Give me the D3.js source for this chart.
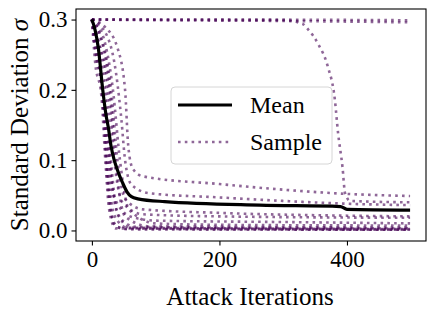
<!DOCTYPE html>
<html>
<head>
<meta charset="utf-8">
<script src="https://cdn.jsdelivr.net/npm/d3@7"></script>
<style>
  body { margin: 0; background: #fff; }
</style>
</head>
<body>
<div id="chart"></div>
<script>
// mean sigma over attack iterations
const meanSeries = [[0,0.3],[5,0.285],[10,0.26],[17,0.2],[22,0.165],[26,0.145],[30,0.12],[35,0.1],[40,0.086],[48,0.068],[55,0.055],[62,0.048],[72,0.045],[114,0.041],[263,0.036],[390,0.034],[400,0.03],[499,0.029]];

// individual samples (iteration, sigma)
const sampleSeries = [
  [[0,0.3],[100,0.299],[300,0.298],[499,0.296]],
  [[0,0.3],[200,0.3],[499,0.299]],
  [[0,0.3],[300,0.299],[330,0.294],[339,0.286],[355,0.265],[370,0.233],[381,0.186],[386,0.139],[393,0.09],[397,0.053],[405,0.042],[499,0.04]],
  [[0,0.3],[20,0.29],[40,0.26],[52,0.2],[57,0.12],[64,0.088],[80,0.077],[200,0.066],[300,0.058],[400,0.052],[499,0.049]],
  [[0,0.3],[15,0.29],[35,0.24],[46,0.16],[52,0.1],[62,0.065],[90,0.053],[200,0.047],[300,0.042],[400,0.038],[499,0.036]],
  [[0,0.3],[12,0.28],[30,0.2],[40,0.1],[52,0.045],[80,0.03],[200,0.025],[400,0.021],[499,0.02]],
  [[0,0.3],[10,0.27],[26,0.2],[35,0.1],[48,0.04],[80,0.023],[200,0.02],[499,0.018]],
  [[0,0.3],[8,0.26],[22,0.15],[34,0.05],[60,0.02],[100,0.014],[300,0.012],[499,0.01]],
  [[0,0.3],[14,0.285],[33,0.2],[44,0.1],[58,0.03],[100,0.01],[200,0.008],[499,0.007]],
  [[0,0.3],[6,0.25],[16,0.2],[22,0.1],[29,0.03],[40,0.005],[60,0.002],[499,0.001]],
  [[0,0.3],[8,0.26],[19,0.18],[26,0.08],[36,0.02],[55,0.004],[499,0.002]],
  [[0,0.3],[10,0.27],[23,0.2],[30,0.1],[42,0.02],[70,0.005],[499,0.003]],
  [[0,0.3],[12,0.28],[28,0.2],[37,0.1],[52,0.02],[90,0.006],[499,0.004]],
  [[0,0.3],[7,0.25],[17,0.19],[24,0.09],[34,0.01],[50,0.002],[499,0.001]],
  [[0,0.3],[5,0.24],[15,0.19],[21,0.1],[27,0.03],[37,0.003],[499,0.001]],
  [[0,0.3],[9,0.265],[21,0.19],[28,0.1],[38,0.03],[60,0.004],[499,0.002]]
];

const xTicks = [0, 200, 400];
const yTicks = [0.0, 0.1, 0.2, 0.3];

const FONT = 'Liberation Serif';
const W = 435, H = 310;
const margin = { top: 9, right: 9, bottom: 69, left: 76 };
const width = W - margin.left - margin.right;
const height = H - margin.top - margin.bottom;

const svg = d3.select('#chart').append('svg')
  .attr('width', W)
  .attr('height', H)
  .attr('font-family', FONT);

const g = svg.append('g')
  .attr('transform', `translate(${margin.left},${margin.top})`);

const x = d3.scaleLinear().domain([-24.95, 523.95]).range([0, width]);
const y = d3.scaleLinear().domain([-0.015, 0.315]).range([height, 0]);

g.append('clipPath').attr('id', 'clip')
  .append('rect').attr('width', width).attr('height', height);

const line = d3.line()
  .x(d => x(d[0]))
  .y(d => y(d[1]))
  .curve(d3.curveMonotoneX);

const plot = g.append('g').attr('clip-path', 'url(#clip)');

// samples, dotted purple
plot.selectAll('path.sample')
  .data(sampleSeries)
  .enter()
  .append('path')
  .attr('class', 'sample')
  .attr('d', line)
  .attr('fill', 'none')
  .attr('stroke', '#440154')
  .attr('stroke-opacity', 0.6)
  .attr('stroke-width', 2.6)
  .attr('stroke-dasharray', '2.6,4.2');

// mean line on top
plot.append('path')
  .datum(meanSeries)
  .attr('d', line)
  .attr('fill', 'none')
  .attr('stroke', '#000')
  .attr('stroke-width', 3.2)
  .attr('stroke-linejoin', 'round');

// axes
const xAxis = g.append('g')
  .attr('transform', `translate(0,${height})`)
  .call(d3.axisBottom(x).tickValues(xTicks).tickSize(4.5).tickPadding(5));
const yAxis = g.append('g')
  .call(d3.axisLeft(y).tickValues(yTicks).tickFormat(d3.format('.1f')).tickSize(4.5).tickPadding(4));

[xAxis, yAxis].forEach(a => {
  a.attr('font-family', FONT).attr('font-size', 23);
  a.select('.domain').remove();
  a.selectAll('line').attr('stroke', '#000').attr('stroke-width', 1.1);
  a.selectAll('text').attr('fill', '#000');
});

// frame
g.append('rect')
  .attr('width', width).attr('height', height)
  .attr('fill', 'none').attr('stroke', '#000').attr('stroke-width', 1.1);

// axis labels
svg.append('text')
  .attr('x', margin.left + width / 2 - 1)
  .attr('y', 305)
  .attr('text-anchor', 'middle')
  .attr('font-size', 25)
  .text('Attack Iterations');

const yl = svg.append('text')
  .attr('transform', `translate(28,${margin.top + y(0.15)}) rotate(-90)`)
  .attr('text-anchor', 'middle')
  .attr('font-size', 25);
yl.append('tspan').text('Standard Deviation ');
yl.append('tspan').attr('font-style', 'italic').text('σ');

// legend
const lg = svg.append('g').attr('transform', 'translate(171,87)');
lg.append('rect')
  .attr('width', 161).attr('height', 77)
  .attr('rx', 4)
  .attr('fill', '#fff').attr('fill-opacity', 0.8)
  .attr('stroke', '#d6d6d6').attr('stroke-width', 1);

const legendItems = [
  { label: 'Mean', dotted: false },
  { label: 'Sample', dotted: true }
];
legendItems.forEach((it, i) => {
  const cy = 18 + i * 37;
  lg.append('line')
    .attr('x1', 7).attr('x2', 61).attr('y1', cy).attr('y2', cy)
    .attr('stroke', it.dotted ? '#440154' : '#000')
    .attr('stroke-opacity', it.dotted ? 0.6 : 1)
    .attr('stroke-width', it.dotted ? 2.6 : 3.2)
    .attr('stroke-dasharray', it.dotted ? '2.6,4.2' : null);
  lg.append('text')
    .attr('x', 79).attr('y', cy + 8)
    .attr('font-size', 24)
    .text(it.label);
});
</script>
</body>
</html>
